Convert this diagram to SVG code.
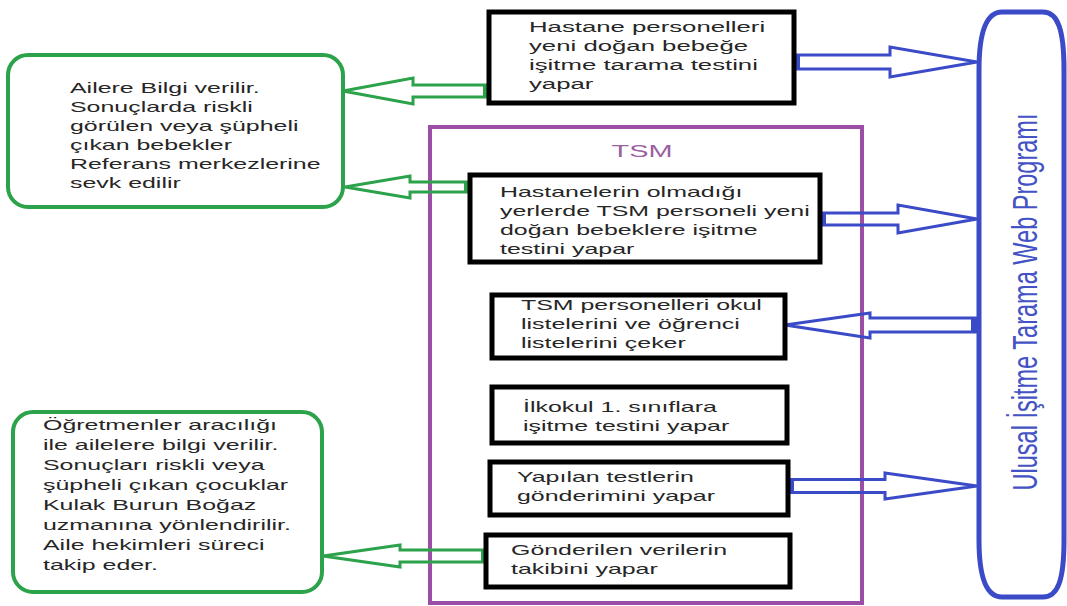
<svg xmlns="http://www.w3.org/2000/svg" width="1067" height="606" viewBox="0 0 1067 606">
<style>
.t{font-family:"Liberation Sans",Arial,sans-serif;font-size:14px;fill:#262626}
.bx{fill:#fff;stroke:#000;stroke-width:5}
.gb{fill:#fff;stroke:#2ca24a;stroke-width:4}
.ga{fill:none;stroke:#2ca24a;stroke-width:3;stroke-linejoin:miter}
.ba{fill:none;stroke:#3b4bc8;stroke-width:3;stroke-linejoin:miter}
.gf{fill:#2ca24a}
.bf{fill:#3b4bc8}
</style>
<rect width="1067" height="606" fill="#fff"/>
<g id="tsm">
<rect x="430" y="127" width="432" height="476" fill="none" stroke="#9c4ea6" stroke-width="4"/>
<g transform="translate(642,157) scale(1.7,1)"><text x="0" y="0" text-anchor="middle" style="font-family:'Liberation Sans',Arial,sans-serif;font-size:17px;fill:#9c5fa2">TSM</text></g>
</g>
<g id="connectors">
<polygon class="ga" points="489,85 413,85 413,78 343,91 413,104 413,97 489,97"/>
<rect class="gf" x="483" y="84" width="6" height="14"/>
<polygon class="ga" points="470,182 410,182 410,176 345,187 410,198 410,192 470,192"/>
<rect class="gf" x="464" y="181" width="6" height="12"/>
<polygon class="ga" points="487,550 400,550 400,545 323,556 400,567 400,562 487,562"/>
<rect class="gf" x="481" y="549" width="6" height="14"/>
<polygon class="ba" points="794,55 890,55 890,47 977,62 890,77 890,69 794,69"/>
<rect class="bf" x="794" y="54" width="6" height="16"/>
<polygon class="ba" points="820,213 898,213 898,205 977,219 898,233 898,225 820,225"/>
<rect class="bf" x="820" y="212" width="6" height="14"/>
<polygon class="ba" points="977,318 870,318 870,313 785,325 870,338 870,332 977,332"/>
<rect class="bf" x="971" y="317" width="6" height="16"/>
<polygon class="ba" points="788,479.5 885,479.5 885,473 977,486 885,499 885,492.5 788,492.5"/>
<rect class="bf" x="788" y="478.5" width="6" height="15"/>
</g>
<g id="green1">
<rect class="gb" x="8" y="55" width="335" height="152" rx="20"/>
<g transform="translate(70,0) scale(1.78,1)">
<text class="t" x="0" y="93">Ailere Bilgi verilir.</text>
<text class="t" x="0" y="112">Sonuçlarda riskli</text>
<text class="t" x="0" y="131">görülen veya şüpheli</text>
<text class="t" x="0" y="150">çıkan bebekler</text>
<text class="t" x="0" y="169">Referans merkezlerine</text>
<text class="t" x="0" y="188">sevk edilir</text>
</g>
</g>
<g id="green2">
<rect class="gb" x="13" y="412" width="309" height="180" rx="20"/>
<g transform="translate(43,0) scale(1.78,1)">
<text class="t" x="0" y="430">Öğretmenler aracılığı</text>
<text class="t" x="0" y="450">ile ailelere bilgi verilir.</text>
<text class="t" x="0" y="470">Sonuçları riskli veya</text>
<text class="t" x="0" y="490">şüpheli çıkan çocuklar</text>
<text class="t" x="0" y="510">Kulak Burun Boğaz</text>
<text class="t" x="0" y="530">uzmanına yönlendirilir.</text>
<text class="t" x="0" y="550">Aile hekimleri süreci</text>
<text class="t" x="0" y="570">takip eder.</text>
</g>
</g>
<g id="hastane">
<rect class="bx" x="489" y="12" width="305" height="91"/>
<g transform="translate(529,0) scale(1.84,1)">
<text class="t" x="0" y="32">Hastane personelleri</text>
<text class="t" x="0" y="51">yeni doğan bebeğe</text>
<text class="t" x="0" y="70">işitme tarama testini</text>
<text class="t" x="0" y="89">yapar</text>
</g>
</g>
<g id="box2">
<rect class="bx" x="470" y="175" width="350" height="87"/>
<g transform="translate(500,0) scale(1.78,1)">
<text class="t" x="0" y="197">Hastanelerin olmadığı</text>
<text class="t" x="0" y="216">yerlerde TSM personeli yeni</text>
<text class="t" x="0" y="235">doğan bebeklere işitme</text>
<text class="t" x="0" y="254">testini yapar</text>
</g>
</g>
<g id="box3">
<rect class="bx" x="492" y="295" width="293" height="63"/>
<g transform="translate(521,0) scale(1.78,1)">
<text class="t" x="0" y="310">TSM personelleri okul</text>
<text class="t" x="0" y="329">listelerini ve öğrenci</text>
<text class="t" x="0" y="348">listelerini çeker</text>
</g>
</g>
<g id="box4">
<rect class="bx" x="492" y="387" width="295" height="56"/>
<g transform="translate(523,0) scale(1.78,1)">
<text class="t" x="0" y="412">İlkokul 1. sınıflara</text>
<text class="t" x="0" y="431">işitme testini yapar</text>
</g>
</g>
<g id="box5">
<rect class="bx" x="490" y="462" width="298" height="53"/>
<g transform="translate(517,0) scale(1.78,1)">
<text class="t" x="0" y="482">Yapılan testlerin</text>
<text class="t" x="0" y="501">gönderimini yapar</text>
</g>
</g>
<g id="box6">
<rect class="bx" x="486" y="535" width="304" height="52"/>
<g transform="translate(511,0) scale(1.78,1)">
<text class="t" x="0" y="555">Gönderilen verilerin</text>
<text class="t" x="0" y="574">takibini yapar</text>
</g>
</g>
<g id="web">
<path d="M979,70 C979,30 987,12 1002,12 L1043,12 C1058,12 1064,30 1064,70 L1064,540 C1064,580 1058,597 1043,597 L1002,597 C987,597 979,580 979,540 Z" fill="#fff" stroke="#3b4bc8" stroke-width="5"/>
<g transform="translate(1037,302) scale(1.5,1) rotate(-90)">
<text x="0" y="0" text-anchor="middle" textLength="377" lengthAdjust="spacingAndGlyphs" style="font-family:'Liberation Sans',Arial,sans-serif;font-size:23px;fill:#4352c4">Ulusal İşitme Tarama Web Programı</text>
</g>
</g>
</svg>
